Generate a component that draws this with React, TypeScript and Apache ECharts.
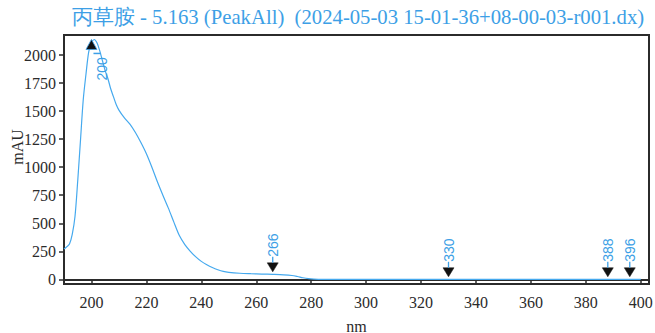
import React, { useEffect, useRef } from "react";
import * as echarts from "echarts";

const TITLE = "丙草胺 - 5.163 (PeakAll)  (2024-05-03 15-01-36+08-00-03-r001.dx)";
const X_NAME = "nm";
const Y_NAME = "mAU";

const wavelengths = [
  190, 191, 192, 193, 194, 195, 196, 197, 198, 199, 200, 201, 202, 203, 204, 205,
  206, 207, 208, 209, 210, 212, 214, 216, 218, 220, 222, 224, 226, 228, 230, 232,
  234, 236, 238, 240, 242, 244, 246, 248, 250, 254, 258, 262, 266, 270, 273, 275,
  277, 279, 281, 284, 300, 320, 340, 360, 380, 400,
];
const absorbance = [
  270, 290, 315, 400, 560, 880, 1240, 1600, 1830, 2030, 2110, 2140, 2110, 2040, 1950, 1860,
  1790, 1700, 1630, 1560, 1510, 1440, 1385, 1310, 1220, 1120, 1000, 870, 750, 635, 510, 390,
  310, 250, 200, 160, 130, 105, 85, 70, 62, 54, 50, 47, 44, 40, 34, 25,
  14, 6, 2, 0, 0, 0, 0, 0, 0, 0,
];

const xTicks = [200, 220, 240, 260, 280, 300, 320, 340, 360, 380, 400];
const yTicks = [0, 250, 500, 750, 1000, 1250, 1500, 1750, 2000];

const markNm = [200, 266, 330, 388, 396];
const markValue = [2060, 44, 0, 0, 0];
const markDir = ["up", "down", "down", "down", "down"];

const BLUE = "#3d9fe6";
const LINE = "#45a9ee";
const DARK = "#2b2b2b";
const SERIF = "Liberation Serif";
const SANS = "Liberation Sans";

export default function App() {
  const ref = useRef<HTMLDivElement>(null);
  useEffect(() => {
    if (!ref.current) return;
    const chart = echarts.init(ref.current, null, { renderer: "svg" });
    const lineData = wavelengths.map((w, i) => [w, absorbance[i]]);
    const markData = markNm.map((w, i) => [w, markValue[i], markDir[i] === "up" ? 1 : 0]);
    chart.setOption({
      animation: false,
      backgroundColor: "#fff",
      grid: {
        left: 64,
        right: 6,
        top: 35,
        bottom: 49,
        show: true,
        borderColor: DARK,
        borderWidth: 2,
        backgroundColor: "transparent",
        containLabel: false,
        outerBoundsMode: "none",
      },
      xAxis: {
        type: "value",
        min: 190,
        max: 403,
        name: X_NAME,
        nameLocation: "middle",
        nameGap: 34,
        nameTextStyle: { fontFamily: SERIF, fontSize: 16, color: DARK },
        axisLine: { show: true, lineStyle: { color: DARK, width: 2 } },
        axisTick: { show: true, length: 5, customValues: xTicks, lineStyle: { color: DARK, width: 1.5 } },
        axisLabel: {
          customValues: xTicks,
          margin: 10,
          fontFamily: SERIF,
          fontSize: 16,
          color: DARK,
          formatter: (v: number) => String(v),
        },
        splitLine: { show: false },
      },
      yAxis: {
        type: "value",
        min: -42,
        max: 2180,
        axisLine: { show: true, lineStyle: { color: DARK, width: 2 } },
        axisTick: { show: true, length: 5, customValues: yTicks, lineStyle: { color: DARK, width: 1.5 } },
        axisLabel: {
          customValues: yTicks,
          margin: 8,
          fontFamily: SERIF,
          fontSize: 16,
          color: DARK,
          formatter: (v: number) => String(v),
        },
        splitLine: { show: false },
      },
      graphic: [
        {
          type: "text",
          x: 358,
          y: 17,
          style: {
            text: TITLE,
            fill: BLUE,
            fontFamily: SERIF,
            fontSize: 20.7,
            align: "center",
            verticalAlign: "middle",
          },
        },
        {
          type: "text",
          x: 17.5,
          y: 147,
          rotation: Math.PI / 2,
          style: {
            text: Y_NAME,
            fill: DARK,
            fontFamily: SERIF,
            fontSize: 16,
            align: "center",
            verticalAlign: "middle",
          },
        },
      ],
      series: [
        {
          type: "line",
          data: lineData,
          showSymbol: false,
          smooth: 0.3,
          lineStyle: { color: LINE, width: 1.2 },
          z: 2,
        },
        {
          type: "custom",
          data: markData,
          z: 5,
          renderItem: (params: any, api: any) => {
            const nm = api.value(0);
            const v = api.value(1);
            const up = api.value(2) === 1;
            const p = api.coord([nm, v]);
            const x = p[0];
            const label = String(Math.round(nm));
            if (up) {
              const tip = p[1] - 9;
              return {
                type: "group",
                children: [
                  {
                    type: "polygon",
                    shape: { points: [[x, tip], [x - 5.5, tip + 10], [x + 5.5, tip + 10]] },
                    style: { fill: "#111", stroke: BLUE, lineWidth: 0.8 },
                  },
                  {
                    type: "line",
                    shape: { x1: x + 2, y1: tip + 14, x2: x + 9, y2: tip + 14 },
                    style: { stroke: BLUE, lineWidth: 1.5 },
                  },
                  {
                    type: "text",
                    x: x + 11,
                    y: tip + 41,
                    rotation: Math.PI / 2,
                    style: {
                      text: label,
                      fill: BLUE,
                      fontFamily: SANS,
                      fontSize: 14,
                      align: "left",
                      verticalAlign: "middle",
                    },
                  },
                ],
              };
            }
            const tip = p[1] - 2.5;
            return {
              type: "group",
              children: [
                {
                  type: "polygon",
                  shape: { points: [[x - 5.5, tip - 9], [x + 5.5, tip - 9], [x, tip]] },
                  style: { fill: "#111", stroke: "#111", lineWidth: 0.5 },
                },
                {
                  type: "line",
                  shape: { x1: x, y1: tip - 9, x2: x, y2: tip - 15 },
                  style: { stroke: BLUE, lineWidth: 1.3 },
                },
                {
                  type: "text",
                  x: x,
                  y: tip - 15,
                  rotation: Math.PI / 2,
                  style: {
                    text: label,
                    fill: BLUE,
                    fontFamily: SANS,
                    fontSize: 14,
                    align: "left",
                    verticalAlign: "middle",
                  },
                },
              ],
            };
          },
        },
      ],
    });
    return () => chart.dispose();
  }, []);
  return (
    <div
      ref={ref}
      style={{ position: "fixed", left: 0, top: 0, width: 655, height: 333, background: "#fff" }}
    />
  );
}
